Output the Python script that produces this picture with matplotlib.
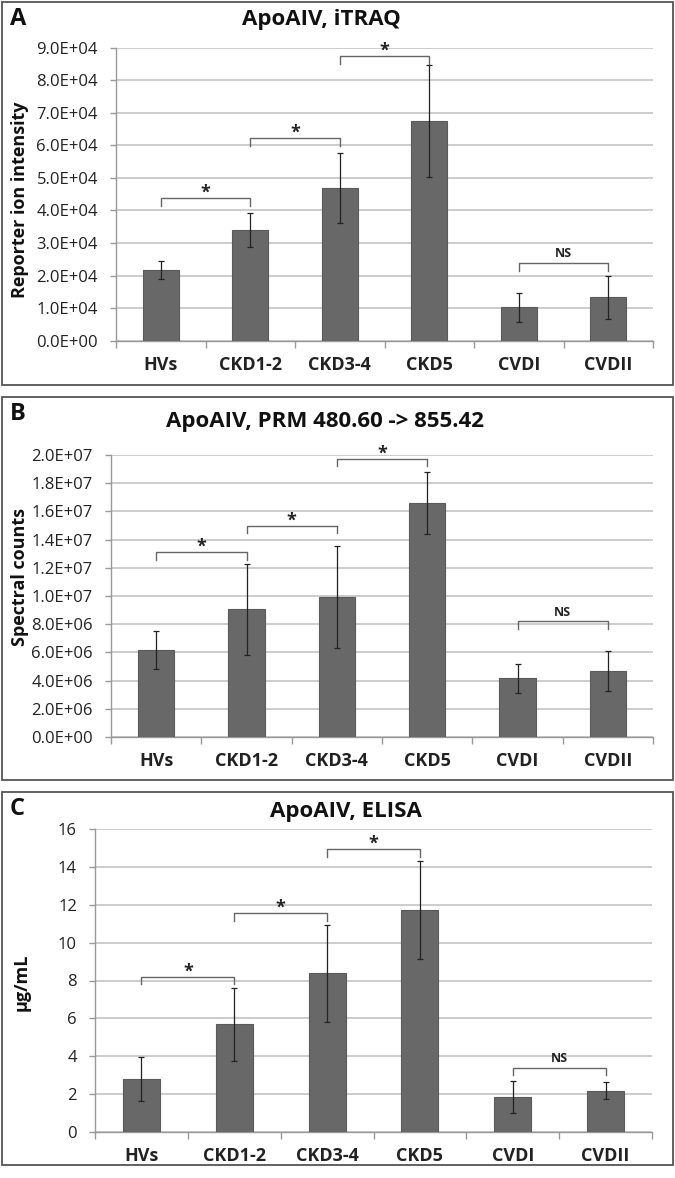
import numpy as np
import matplotlib.pyplot as plt
from matplotlib.patches import Rectangle

plt.rcParams['font.family'] = ['Open Sans', 'DejaVu Sans']

groups = ["HVs", "CKD1-2", "CKD3-4", "CKD5", "CVDI", "CVDII"]

itraq_mean = [2.17e4, 3.40e4, 4.70e4, 6.75e4, 1.02e4, 1.33e4]
itraq_err = [0.28e4, 0.51e4, 1.07e4, 1.72e4, 0.46e4, 0.66e4]
itraq_ticks = np.arange(0, 9.01e4, 1e4)
itraq_ticklabels = ["%.1E" % v for v in itraq_ticks]

prm_mean = [6.2e6, 9.05e6, 9.95e6, 16.6e6, 4.15e6, 4.65e6]
prm_err = [1.35e6, 3.25e6, 3.62e6, 2.2e6, 1.0e6, 1.42e6]
prm_ticks = np.arange(0, 2.01e7, 2e6)
prm_ticklabels = ["%.1E" % v for v in prm_ticks]

elisa_mean = [2.82, 5.68, 8.38, 11.73, 1.85, 2.17]
elisa_err = [1.16, 1.93, 2.57, 2.57, 0.83, 0.45]
elisa_ticks = np.arange(0, 17, 2)
elisa_ticklabels = [str(int(v)) for v in elisa_ticks]

# brackets: (left group, right group, height, label)
itraq_brackets = [(0, 1, 4.38e4, "*"), (1, 2, 6.24e4, "*"), (2, 3, 8.74e4, "*"), (4, 5, 2.39e4, "NS")]
prm_brackets = [(0, 1, 13.1e6, "*"), (1, 2, 15.0e6, "*"), (2, 3, 19.75e6, "*"), (4, 5, 8.2e6, "NS")]
elisa_brackets = [(0, 1, 8.2, "*"), (1, 2, 11.55, "*"), (2, 3, 14.94, "*"), (4, 5, 3.4, "NS")]

W, H = 675, 1178
fig = plt.figure(figsize=(W / 100, H / 100), dpi=100)


def px_axes(left, top, right, bottom):
    return fig.add_axes([left / W, 1 - bottom / H, (right - left) / W, (bottom - top) / H])


def box(left, top, right, bottom):
    fig.patches.append(Rectangle((left / W, 1 - bottom / H), (right - left) / W, (bottom - top) / H,
                                 transform=fig.transFigure, fill=False, edgecolor="#555555",
                                 linewidth=1.3))


def panel(rect, frame, letter, title, title_xy, ylabel, ylabel_xy, mean, err, ticks, ticklabels,
          brackets, depth, ymax):
    box(*frame)
    ax = px_axes(*rect)
    x = np.arange(len(groups))
    ax.bar(x, mean, width=0.4, color="#686868", edgecolor="#5a5a5a", linewidth=0.8, zorder=3)
    ax.errorbar(x, mean, yerr=err, fmt="none", ecolor="#222222", elinewidth=0.9, capsize=2.2,
                capthick=0.9, zorder=4)
    ax.set_xlim(-0.5, len(groups) - 0.5)
    ax.set_ylim(0, ymax)
    ax.set_yticks(ticks)
    ax.set_yticklabels(ticklabels, fontsize=12, color="#222222")
    ax.set_xticks(x)
    ax.set_xticklabels(groups, fontsize=13, fontweight="bold", color="#222222")
    ax.set_xticks(np.arange(-0.5, len(groups)), minor=True)
    ax.tick_params(axis="x", which="major", length=0, pad=11)
    ax.tick_params(axis="x", which="minor", length=5, color="#999999", width=1)
    ax.tick_params(axis="y", length=4, color="#999999", width=1, pad=9)
    ax.grid(axis="y", color="#c4c4c4", linewidth=1.2, zorder=0)
    for s in ["top", "right"]:
        ax.spines[s].set_visible(False)
    for s in ["left", "bottom"]:
        ax.spines[s].set_color("#999999")
        ax.spines[s].set_linewidth(1)
    for a, b, yb, lab in brackets:
        ax.plot([a, a, b, b], [yb - depth, yb, yb, yb - depth], color="#666666", linewidth=1,
                clip_on=False, zorder=5)
        if lab == "*":
            ax.text((a + b) / 2, yb - depth * 0.5, lab, ha="center", va="bottom", fontsize=13,
                    fontweight="bold", color="#222222", clip_on=False)
        else:
            ax.text((a + b) / 2, yb + depth * 0.35, lab, ha="center", va="bottom", fontsize=9,
                    fontweight="bold", color="#222222", clip_on=False)
    fig.text(frame[0] / W + 8 / W, 1 - (frame[1] + 17) / H, letter, fontsize=17, fontweight="bold",
             ha="left", va="center", color="#111111")
    fig.text(title_xy[0] / W, 1 - title_xy[1] / H, title, fontsize=16, fontweight="bold",
             ha="center", va="center", color="#111111")
    fig.text(ylabel_xy[0] / W, 1 - ylabel_xy[1] / H, ylabel, fontsize=13, fontweight="bold",
             rotation=90, ha="center", va="center", color="#111111")
    return ax


panel((116, 47.7, 653, 340.7), (2, 2, 673, 385), "A", "ApoAIV, iTRAQ", (321, 20),
      "Reporter ion intensity", (20, 200), itraq_mean, itraq_err, itraq_ticks, itraq_ticklabels,
      itraq_brackets, 0.25e4, 9e4)
panel((111, 455, 653, 737), (2, 397, 673, 780), "B", "ApoAIV, PRM 480.60 -> 855.42", (325, 422),
      "Spectral counts", (20, 577), prm_mean, prm_err, prm_ticks, prm_ticklabels,
      prm_brackets, 0.55e6, 2e7)
panel((95, 829, 652, 1132), (2, 792, 673, 1165), "C", "ApoAIV, ELISA", (346, 812),
      "µg/mL", (22, 982), elisa_mean, elisa_err, elisa_ticks, elisa_ticklabels,
      elisa_brackets, 0.4, 16)

fig.savefig("out.png", dpi=100, facecolor="white")
